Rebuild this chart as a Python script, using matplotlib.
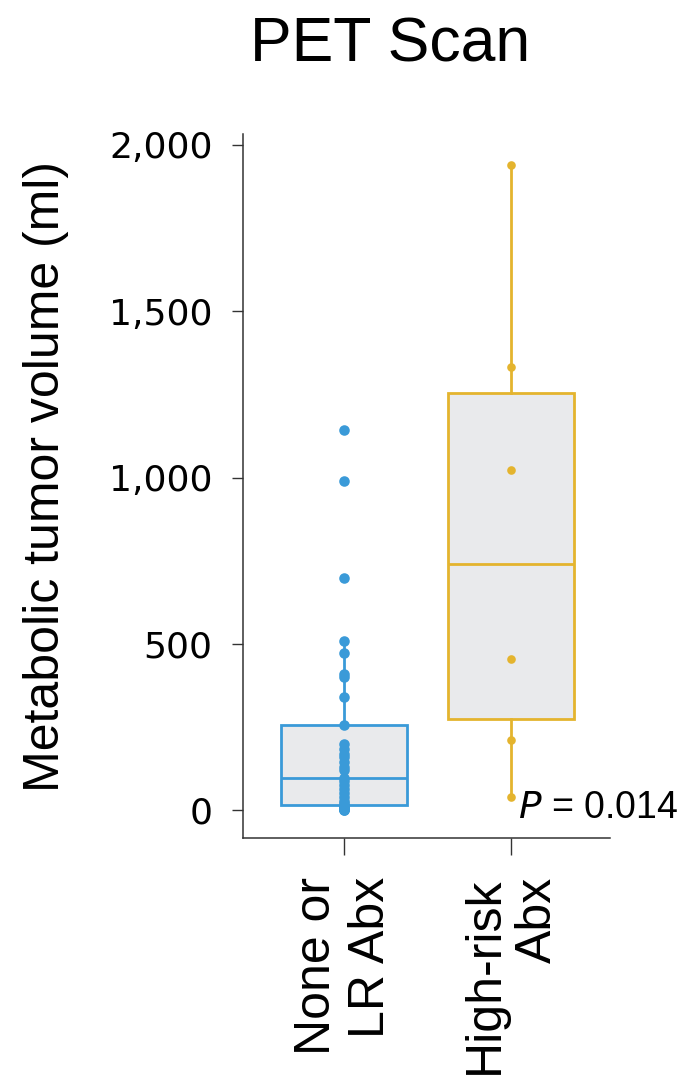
import numpy as np
import matplotlib
matplotlib.use("Agg")
import matplotlib.pyplot as plt

# values (ml)
groups = ["None or\nLR Abx", "High-risk\nAbx"]
low_risk = [0, 1, 2, 4, 5, 7, 9, 12, 15,
            20, 28, 38, 50, 62, 75, 88, 96,
            120, 130, 145, 160, 170, 185, 200, 256,
            341, 400, 410, 472, 509, 698, 990, 1143]
high_risk = [40, 212, 455, 1023, 1332, 1940]
yticks = [0, 500, 1000, 1500, 2000]
ytick_labels = ["0", "500", "1,000", "1,500", "2,000"]
p_text = "0.014"

BLUE = "#3a9ad8"
GOLD = "#e4b42e"
FILL = "#e9eaec"
AXC = "#333333"

plt.rcParams["font.family"] = ["Liberation Sans", "DejaVu Sans"]

fig = plt.figure(figsize=(6.95, 10.78), dpi=100)
ax = fig.add_axes([0.3496, 0.2226, 0.5281, 0.6531])

bp = ax.boxplot([low_risk, high_risk], positions=[1, 2], widths=0.76,
                patch_artist=True, showfliers=False, showcaps=False, whis=1.5)
for i, col in enumerate([BLUE, GOLD]):
    bp["boxes"][i].set(facecolor=FILL, edgecolor=col, linewidth=2.0)
    bp["medians"][i].set(color=col, linewidth=2.0)
    for w in bp["whiskers"][2 * i:2 * i + 2]:
        w.set(color=col, linewidth=2.0)

ax.plot(np.full(len(low_risk), 1), low_risk, "o", color=BLUE, ms=7.6,
        mec="none", zorder=5)
ax.plot(np.full(len(high_risk), 2), high_risk, "o", color=GOLD, ms=6.2,
        mec="none", zorder=5)

ax.set_xlim(0.395, 2.593)
ax.set_ylim(-84, 2033)
ax.set_yticks(yticks)
ax.set_yticklabels(ytick_labels, fontsize=26, family="DejaVu Sans")
ax.set_xticks([1, 2])
ax.set_xticklabels(groups, fontsize=36, rotation=90, multialignment="right")

for s in ("top", "right"):
    ax.spines[s].set_visible(False)
for s in ("left", "bottom"):
    ax.spines[s].set_color(AXC)
    ax.spines[s].set_linewidth(1.1)
ax.tick_params(axis="y", length=8, width=1.0, color=AXC, pad=14)
ax.tick_params(axis="x", length=12, width=1.0, color=AXC, pad=16)

ax.set_ylabel("Metabolic tumor volume (ml)", fontsize=36)
ax.yaxis.set_label_coords(-0.473, 0.513)

ax.text(0.749, 0.028, r"$\it{P}$ = " + p_text, transform=ax.transAxes,
        fontsize=27, va="baseline", ha="left")

fig.text(0.561, 0.9425, "PET Scan", fontsize=45, ha="center", va="baseline")

fig.savefig("out.png", dpi=100, facecolor="white")
plt.close(fig)
